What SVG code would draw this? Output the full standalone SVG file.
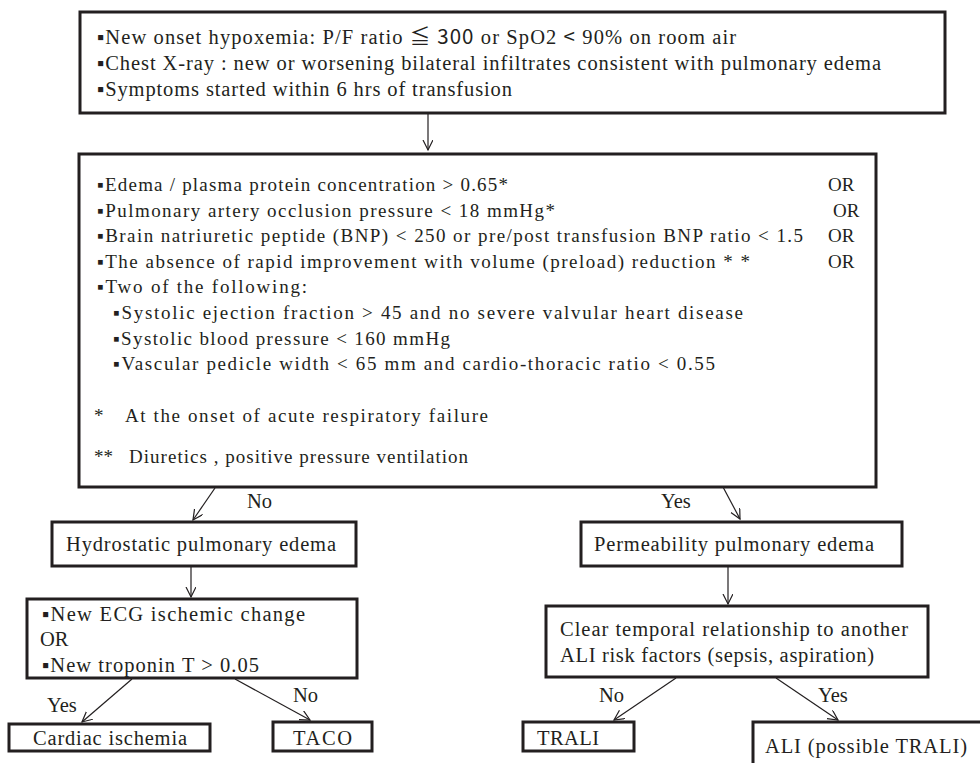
<svg xmlns="http://www.w3.org/2000/svg" width="980" height="763" viewBox="0 0 980 763">
<defs>
<style>
.box{fill:#fff;stroke:#231f20;stroke-width:3}
.t{font-family:"Liberation Serif","Times New Roman",serif;fill:#231f20}
.f20{font-size:20.5px}
.f18{font-size:19px}
.cj{font-family:"Noto Sans CJK JP","DejaVu Sans",sans-serif}
.c{stroke:#231f20;stroke-width:1.2;fill:none;marker-end:url(#ah)}
</style>
<marker id="ah" markerUnits="userSpaceOnUse" markerWidth="12" markerHeight="12" refX="10" refY="5" orient="auto">
<path d="M0,0 L10,5 L0,10" fill="none" stroke="#231f20" stroke-width="1.2"/>
</marker>
</defs>
<rect width="980" height="763" fill="#fff"/>

<g id="connectors">
<line class="c" x1="428" y1="114" x2="428" y2="150"/>
<line class="c" x1="215" y1="488" x2="193" y2="520"/>
<line class="c" x1="723" y1="487" x2="740" y2="519"/>
<line class="c" x1="191" y1="567" x2="191" y2="597"/>
<line class="c" x1="728" y1="567" x2="728" y2="604"/>
<line class="c" x1="132" y1="679" x2="82" y2="722"/>
<line class="c" x1="235" y1="679" x2="310" y2="720"/>
<line class="c" x1="676" y1="678" x2="614" y2="720"/>
<line class="c" x1="776" y1="678" x2="838" y2="720"/>
<text class="t f20" x="247" y="508">No</text>
<text class="t f20" x="661" y="508">Yes</text>
<text class="t f20" x="47" y="712">Yes</text>
<text class="t f20" x="293" y="702">No</text>
<text class="t f20" x="599" y="702">No</text>
<text class="t f20" x="818" y="702">Yes</text>
</g>

<g id="criteria">
<rect class="box" x="80" y="12" width="865" height="101"/>
<text class="t f20" x="97" y="44" textLength="639" lengthAdjust="spacing">▪New onset hypoxemia: P/F ratio <tspan class="cj">≦ 300</tspan> or SpO2 <tspan class="cj">&lt;</tspan> 90% on room air</text>
<text class="t f20" x="97" y="70" textLength="784" lengthAdjust="spacing">▪Chest X-ray : new or worsening bilateral infiltrates consistent with pulmonary edema</text>
<text class="t f20" x="97" y="96" textLength="415" lengthAdjust="spacing">▪Symptoms started within 6 hrs of transfusion</text>
</g>

<g id="assessment">
<rect class="box" x="79" y="154" width="797" height="333"/>
<text class="t f18" x="97" y="191" textLength="411" lengthAdjust="spacing">▪Edema / plasma protein concentration &gt; 0.65*</text>
<text class="t f18" x="828" y="191">OR</text>
<text class="t f18" x="97" y="217" textLength="458" lengthAdjust="spacing">▪Pulmonary artery occlusion pressure &lt; 18 mmHg*</text>
<text class="t f18" x="833" y="217">OR</text>
<text class="t f18" x="97" y="242" textLength="706" lengthAdjust="spacing">▪Brain natriuretic peptide (BNP) &lt; 250 or pre/post transfusion BNP ratio &lt; 1.5</text>
<text class="t f18" x="828" y="242">OR</text>
<text class="t f18" x="97" y="268" textLength="653" lengthAdjust="spacing">▪The absence of rapid improvement with volume (preload) reduction * *</text>
<text class="t f18" x="828" y="268">OR</text>
<text class="t f18" x="97" y="293" textLength="210" lengthAdjust="spacing">▪Two of the following:</text>
<text class="t f18" x="113" y="319" textLength="630" lengthAdjust="spacing">▪Systolic ejection fraction &gt; 45 and no severe valvular heart disease</text>
<text class="t f18" x="113" y="345" textLength="337" lengthAdjust="spacing">▪Systolic blood pressure &lt; 160 mmHg</text>
<text class="t f18" x="113" y="370" textLength="602" lengthAdjust="spacing">▪Vascular pedicle width &lt; 65 mm and cardio-thoracic ratio &lt; 0.55</text>
<text class="t f18" x="94" y="422">*</text>
<text class="t f18" x="125" y="422" textLength="363" lengthAdjust="spacing">At the onset of acute respiratory failure</text>
<text class="t f18" x="94" y="463">**</text>
<text class="t f18" x="129" y="463" textLength="339" lengthAdjust="spacing">Diuretics , positive pressure ventilation</text>
</g>

<g id="hydrostatic">
<rect class="box" x="52" y="522" width="304" height="44"/>
<text class="t f20" x="66" y="551" textLength="270" lengthAdjust="spacing">Hydrostatic pulmonary edema</text>
</g>

<g id="permeability">
<rect class="box" x="581" y="522" width="321" height="44"/>
<text class="t f20" x="594" y="551" textLength="280" lengthAdjust="spacing">Permeability pulmonary edema</text>
</g>

<g id="ecg">
<rect class="box" x="27" y="599" width="330" height="79"/>
<text class="t f20" x="42" y="621" textLength="263" lengthAdjust="spacing">▪New ECG ischemic change</text>
<text class="t f20" x="40" y="646">OR</text>
<text class="t f20" x="42" y="672" textLength="217" lengthAdjust="spacing">▪New troponin T &gt; 0.05</text>
</g>

<g id="temporal">
<rect class="box" x="546" y="606" width="382" height="71"/>
<text class="t f20" x="560" y="636" textLength="348" lengthAdjust="spacing">Clear temporal relationship to another</text>
<text class="t f20" x="560" y="662" textLength="314" lengthAdjust="spacing">ALI risk factors (sepsis, aspiration)</text>
</g>

<g id="cardiac">
<rect class="box" x="9" y="724" width="201" height="27"/>
<text class="t f20" x="33" y="745" textLength="154" lengthAdjust="spacing">Cardiac ischemia</text>
</g>

<g id="taco">
<rect class="box" x="273" y="722" width="99" height="29"/>
<text class="t f20" x="293" y="745" textLength="59" lengthAdjust="spacing">TACO</text>
</g>

<g id="trali">
<rect class="box" x="523" y="722" width="111" height="29"/>
<text class="t f20" x="537" y="745" textLength="62" lengthAdjust="spacing">TRALI</text>
</g>

<g id="ali">
<rect class="box" x="753" y="722" width="240" height="50"/>
<text class="t f20" x="765" y="753" textLength="202" lengthAdjust="spacing">ALI (possible TRALI)</text>
</g>
</svg>
